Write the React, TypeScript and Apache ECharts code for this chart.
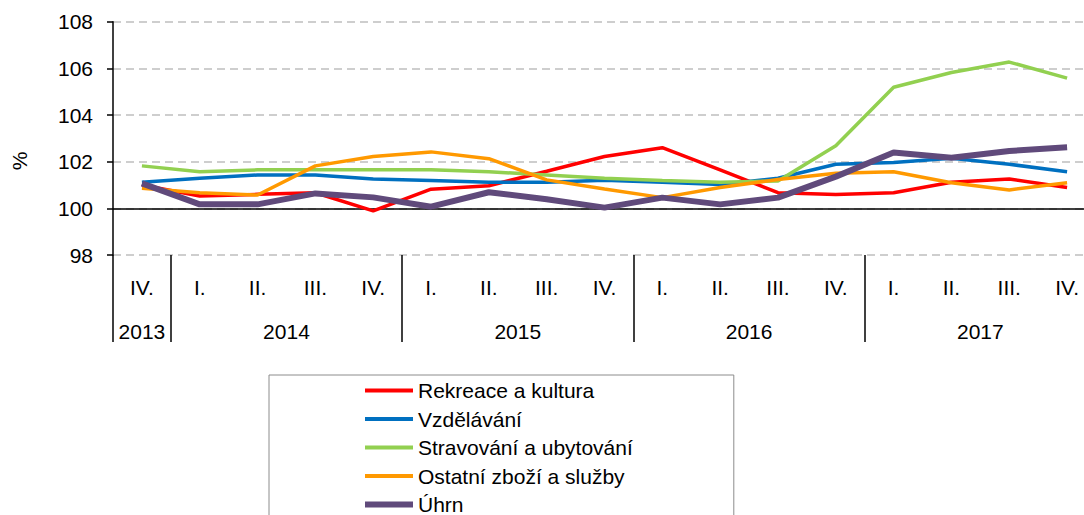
import React, { useEffect, useRef } from "react";
import * as echarts from "echarts";

const periods = [
  "IV. 2013",
  "I. 2014", "II. 2014", "III. 2014", "IV. 2014",
  "I. 2015", "II. 2015", "III. 2015", "IV. 2015",
  "I. 2016", "II. 2016", "III. 2016", "IV. 2016",
  "I. 2017", "II. 2017", "III. 2017", "IV. 2017",
];
const years = ["2013", "2014", "2015", "2016", "2017"];
const quartersPerYear = [1, 4, 4, 4, 4];
const yTicks = [98, 100, 102, 104, 106, 108];

const rekreace = [101.0, 100.53, 100.6, 100.67, 99.89, 100.82, 100.97, 101.59, 102.22, 102.6, 101.65, 100.67, 100.59, 100.67, 101.12, 101.26, 100.89];
const vzdelavani = [101.12, 101.29, 101.43, 101.43, 101.26, 101.19, 101.12, 101.12, 101.2, 101.12, 101.02, 101.29, 101.89, 101.96, 102.15, 101.89, 101.57];
const stravovani = [101.82, 101.57, 101.65, 101.65, 101.65, 101.65, 101.57, 101.43, 101.29, 101.19, 101.12, 101.17, 102.68, 105.19, 105.82, 106.27, 105.58];
const ostatni = [100.86, 100.67, 100.57, 101.82, 102.22, 102.42, 102.13, 101.22, 100.83, 100.46, 100.89, 101.24, 101.5, 101.57, 101.1, 100.79, 101.1];
const uhrn = [101.07, 100.17, 100.17, 100.64, 100.47, 100.07, 100.69, 100.39, 100.03, 100.46, 100.17, 100.46, 101.36, 102.39, 102.17, 102.46, 102.62];

const seriesDefs = [
  { name: "Rekreace a kultura", data: rekreace, color: "#FF0000", width: 3.5 },
  { name: "Vzdělávání", data: vzdelavani, color: "#0070C0", width: 3.5 },
  { name: "Stravování a ubytování", data: stravovani, color: "#92D050", width: 3.5 },
  { name: "Ostatní zboží a služby", data: ostatni, color: "#FF9900", width: 3.5 },
  { name: "Úhrn", data: uhrn, color: "#604A7B", width: 6 },
];

const FONT = "'Liberation Sans', Arial, sans-serif";
const THIN_ICON = "path://M0 0L48 0M0 1H48V5H0ZM0 6L48 6";
const THICK_ICON = "path://M0 0H48V6H0Z";

export default function App() {
  const ref = useRef<HTMLDivElement>(null);
  useEffect(() => {
    if (!ref.current) return;
    const chart = echarts.init(ref.current, undefined, { renderer: "svg" });

    const boundaries: number[] = [0];
    quartersPerYear.forEach((q) => boundaries.push(boundaries[boundaries.length - 1] + q));
    const centers = years.map((_, i) => (boundaries[i] + boundaries[i + 1]) / 2);

    const series: any[] = seriesDefs.map((s, i) => ({
      name: s.name,
      type: "line",
      data: s.data,
      xAxisIndex: 0,
      yAxisIndex: 0,
      symbol: "none",
      lineStyle: { color: s.color, width: s.width },
      itemStyle: { color: s.color },
      z: 3 + i,
      markLine:
        i === 0
          ? {
              silent: true,
              symbol: "none",
              label: { show: false },
              lineStyle: { color: "#000", width: 1.5, type: "solid" },
              data: [{ yAxis: 100 }],
              z: 2,
            }
          : undefined,
    }));

    chart.setOption({
      animation: false,
      backgroundColor: "#fff",
      textStyle: { fontFamily: FONT },
      grid: { left: 113, top: 21.7, right: 4, bottom: 345, containLabel: false },
      xAxis: [
        {
          type: "category",
          data: periods,
          position: "bottom",
          boundaryGap: true,
          axisLine: { show: false },
          axisTick: { show: false },
          splitLine: { show: false },
          axisLabel: {
            interval: 0,
            margin: 22,
            fontSize: 21,
            color: "#000",
            fontFamily: FONT,
            formatter: (v: string) => v.split(" ")[0],
          },
        },
        {
          type: "value",
          position: "bottom",
          min: 0,
          max: periods.length,
          axisLine: { show: false },
          splitLine: { show: false },
          axisTick: {
            show: true,
            inside: false,
            length: 87,
            customValues: boundaries,
            lineStyle: { color: "#000", width: 1.5 },
          },
          axisLabel: {
            show: true,
            margin: 66,
            fontSize: 21,
            color: "#000",
            fontFamily: FONT,
            customValues: centers,
            formatter: (v: number) => {
              const idx = centers.findIndex((c) => Math.abs(c - v) < 1e-6);
              return idx >= 0 ? years[idx] : "";
            },
          },
        },
      ],
      yAxis: {
        type: "value",
        min: yTicks[0],
        max: yTicks[yTicks.length - 1],
        interval: 2,
        axisLine: { show: true, lineStyle: { color: "#000", width: 1.5 } },
        axisTick: { show: true, length: 6, lineStyle: { color: "#000", width: 1.5 } },
        axisLabel: { margin: 20, fontSize: 21, color: "#000", fontFamily: FONT },
        splitLine: {
          show: true,
          lineStyle: { color: "#BFBFBF", width: 1.5, type: [8, 5] },
        },
      },
      legend: {
        orient: "vertical",
        left: 269,
        top: 375,
        padding: [5, 101, 40, 96],
        backgroundColor: "#fff",
        borderColor: "#8C8C8C",
        borderWidth: 1,
        itemWidth: 48,
        itemHeight: 6,
        itemGap: 7.5,
        textStyle: { fontSize: 21, color: "#000", fontFamily: FONT, lineHeight: 21 },
        data: seriesDefs.map((s) => ({
          name: s.name,
          icon: s.width > 4 ? THICK_ICON : THIN_ICON,
        })),
      },
      graphic: [
        {
          type: "text",
          x: 19,
          y: 161,
          rotation: Math.PI / 2,
          style: {
            text: "%",
            fontSize: 21,
            fontFamily: FONT,
            fill: "#000",
            align: "center",
            verticalAlign: "middle",
          },
        },
      ],
      series,
    });

    return () => chart.dispose();
  }, []);

  return (
    <div style={{ position: "absolute", left: 0, top: 0, width: 1084, height: 515, overflow: "hidden", background: "#fff" }}>
      <div ref={ref} style={{ width: 1100, height: 600 }} />
    </div>
  );
}
